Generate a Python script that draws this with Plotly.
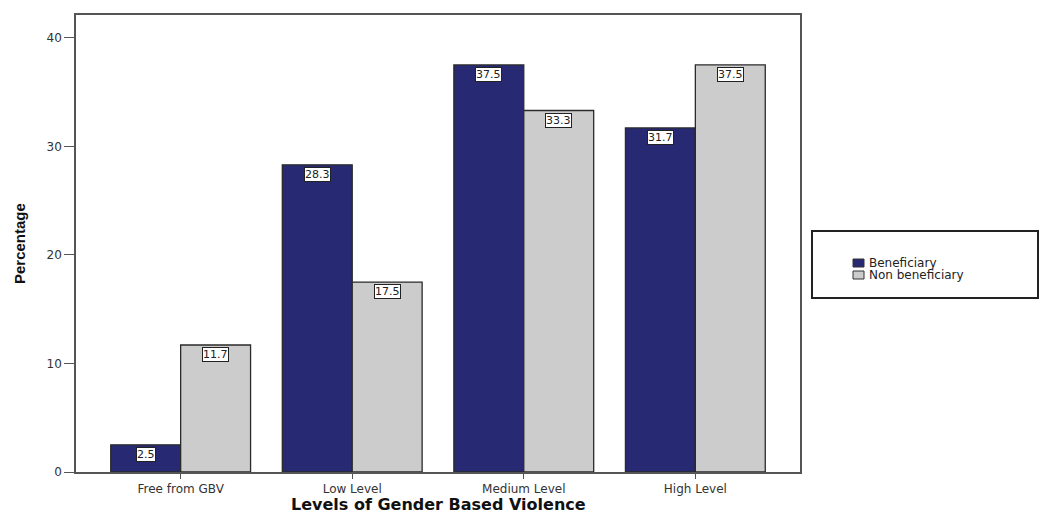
import plotly.graph_objects as go

categories = ["Free from GBV", "Low Level", "Medium Level", "High Level"]
beneficiary = [2.5, 28.3, 37.5, 31.7]
non_beneficiary = [11.7, 17.5, 33.3, 37.5]
series_names = ["Beneficiary", "Non beneficiary"]
colors = ["#272a72", "#cccccc"]
y_ticks = [0, 10, 20, 30, 40]
x_title = "Levels of Gender Based Violence"
y_title = "Percentage"

WIDE = "DejaVu Sans"
L, R, T, B = 76, 800, 15, 472
PW, PH = R - L, B - T

fig = go.Figure()
for name, vals, col in zip(series_names, [beneficiary, non_beneficiary], colors):
    fig.add_trace(go.Bar(
        x=categories, y=vals, name=name, marker_color=col,
        marker_line_color="#2a2a2a", marker_line_width=1.3,
        showlegend=False,
    ))

shift = [-35, 35]
for s, vals in enumerate([beneficiary, non_beneficiary]):
    for c, v in zip(categories, vals):
        fig.add_annotation(
            x=c, y=v, xref="x", yref="y", xshift=shift[s], yshift=-2,
            yanchor="top", text=f"{v:.1f}", showarrow=False,
            font=dict(family=WIDE, size=11, color="#222"),
            bgcolor="white", bordercolor="#222", borderwidth=1, borderpad=0,
        )

def px_x(p):
    return (p - L) / PW

def px_y(p):
    return (B - p) / PH

# Custom legend box
fig.add_shape(type="rect", xref="paper", yref="paper",
              x0=px_x(812), x1=px_x(1038), y0=px_y(298), y1=px_y(231),
              line=dict(color="#222", width=2), fillcolor="white")
for i, (name, col) in enumerate(zip(series_names, colors)):
    yc = 263 + i * 12
    fig.add_shape(type="rect", xref="paper", yref="paper",
                  x0=px_x(853), x1=px_x(864), y0=px_y(yc + 4), y1=px_y(yc - 4),
                  line=dict(color="#333", width=1), fillcolor=col)
    fig.add_annotation(x=px_x(867), y=px_y(yc), xref="paper", yref="paper",
                       text=name, showarrow=False, xanchor="left", yanchor="middle",
                       font=dict(family=WIDE, size=12, color="#222"))

# Axis titles
fig.add_annotation(x=0.5, y=px_y(504), xref="paper", yref="paper", text=f"<b>{x_title}</b>",
                   showarrow=False, xanchor="center", yanchor="middle",
                   font=dict(family=WIDE, size=16, color="#111"))
fig.add_annotation(x=px_x(19), y=px_y(244), xref="paper", yref="paper", text=f"<b>{y_title}</b>",
                   showarrow=False, xanchor="center", yanchor="middle", textangle=-90,
                   font=dict(family="Liberation Sans Narrow, Liberation Sans", size=15, color="#111"))

fig.update_layout(
    width=1040, height=515,
    margin=dict(l=L, r=1040 - R, t=T, b=515 - B, autoexpand=False),
    paper_bgcolor="white", plot_bgcolor="white",
    barmode="group", bargap=0.185, bargroupgap=0,
    font=dict(family=WIDE, size=12, color="#333"),
    xaxis=dict(
        range=[-0.61, 3.61], showline=True, linecolor="#555", linewidth=1.5, mirror=True,
        ticks="outside", ticklen=5, tickcolor="#555", showgrid=False, automargin=False,
        tickfont=dict(family=WIDE, size=12, color="#333"),
    ),
    yaxis=dict(
        range=[0, 42.1], tickvals=y_ticks, showline=True, linecolor="#555", linewidth=1.5,
        mirror=True, ticks="outside", ticklen=10, tickcolor="#555", showgrid=False,
        zeroline=False, automargin=False, tickfont=dict(family=WIDE, size=12, color="#333"),
    ),
)

fig.write_html("out.html")
